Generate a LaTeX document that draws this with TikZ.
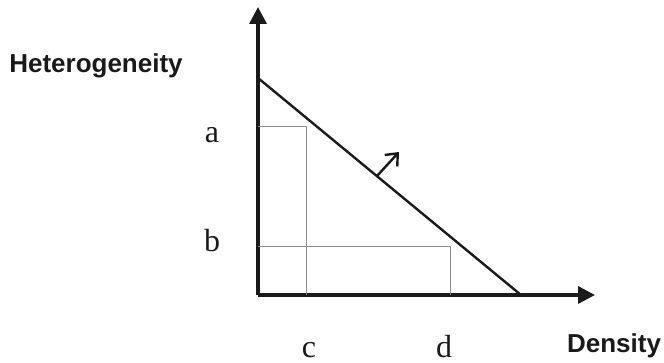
\documentclass[tikz,border=0pt]{standalone}
\usepackage{fontspec}
\setmainfont{Liberation Serif}
\setsansfont{Liberation Sans}
\usetikzlibrary{positioning,arrows.meta}
\definecolor{ink}{HTML}{1a1a1a}
\definecolor{guide}{HTML}{8c8c8c}

\begin{document}
\begin{tikzpicture}[
  x=1pt,y=-1pt,
  axis/.style={draw=ink,line width=3.4pt,-{Triangle[length=17pt,width=17pt]}},
  front/.style={draw=ink,line width=2.4pt},
  guideline/.style={draw=guide,line width=1pt},
  axlabel/.style={font=\sffamily\bfseries\fontsize{26}{29}\selectfont,text=ink,inner sep=0pt},
  tick/.style={font=\fontsize{32}{34}\selectfont,text=ink,inner sep=0pt,anchor=base}]
  \useasboundingbox (0,0) rectangle (664,363);
  % axes
  \coordinate (O) at (258,295);
  \coordinate (ytip) at (258,7);
  \coordinate (xtip) at (595,295);
  \draw[axis] (O) -- (ytip);
  \draw[axis] (O) -- (xtip);
  \node[axlabel] (het) at (96,66) {Heterogeneity};
  \node[axlabel] (dens) at (614,346) {Density};
  % frontier and its shift
  \coordinate (ftop) at (258,78);
  \coordinate (fbot) at (521,295);
  \draw[front] (ftop) -- (fbot);
  \coordinate (shift0) at (377,176);
  \coordinate (shift1) at (399,152);
  \draw[front,-{Straight Barb[length=10pt,width=17pt,line width=2.4pt]}] (shift0) -- (shift1);
  % the two combinations
  \coordinate (ya) at (258,127);
  \coordinate (yb) at (258,247);
  \coordinate (xc) at (306,295);
  \coordinate (xd) at (450,295);
  \coordinate (pa) at (306,127);
  \coordinate (pb) at (450,247);
  \draw[guideline] (ya) -- (pa) -- (xc);
  \draw[guideline] (yb) -- (pb) -- (xd);
  \node[tick] (a) at (212,143) {a};
  \node[tick] (b) at (212,252) {b};
  \node[tick] (c) at (309,357) {c};
  \node[tick] (d) at (444,357) {d};
\end{tikzpicture}
\end{document}
